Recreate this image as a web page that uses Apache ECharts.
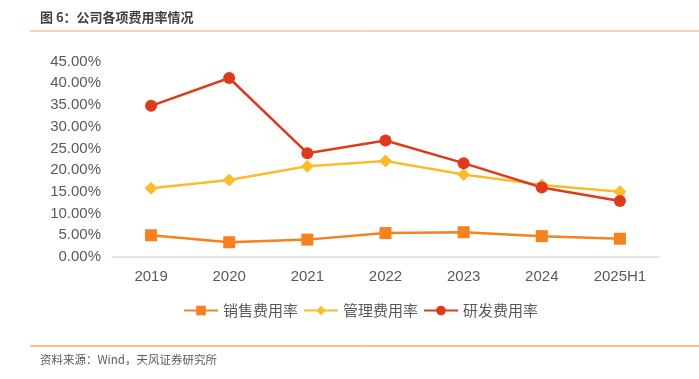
<!DOCTYPE html>
<html><head><meta charset="utf-8">
<script src="https://cdn.jsdelivr.net/npm/echarts@6/dist/echarts.min.js"></script>
<style>html,body{margin:0;padding:0;background:#fff}#c{width:699px;height:379px}</style>
</head><body><div id="c"></div>
<script>
const categories = ['2019','2020','2021','2022','2023','2024','2025H1'];
const salesRate = [5.0, 3.4, 4.0, 5.5, 5.7, 4.8, 4.2];
const adminRate = [15.8, 17.7, 20.9, 22.1, 19.0, 16.6, 15.0];
const rdRate = [34.8, 41.2, 23.9, 26.8, 21.6, 16.0, 12.9];
const seriesNames = ['销售费用率','管理费用率','研发费用率'];
const titleText = '图 6：公司各项费用率情况';
const sourceText = '资料来源：Wind，天风证券研究所';

const chart = echarts.init(document.getElementById('c'));
const font = '"Microsoft YaHei","Noto Sans CJK SC",Arial,sans-serif';
chart.setOption({
  animation:false,
  textStyle:{fontFamily:font},
  graphic:[
    {type:'text',left:40,top:11,style:{text:titleText,font:'bold 13px '+font,fill:'#404040'}},
    {type:'line',shape:{x1:30,y1:31,x2:699,y2:31},style:{stroke:'#F0A868',lineWidth:1}},
    {type:'line',shape:{x1:30,y1:346,x2:699,y2:346},style:{stroke:'#F5821F',lineWidth:1}},
    {type:'text',left:40,top:354,style:{text:sourceText,font:'11.5px '+font,fill:'#595959'}}
  ],
  grid:{left:112,right:40,top:61.5,bottom:122},
  legend:{bottom:56,left:178,itemWidth:34,itemHeight:12,itemGap:5,
    textStyle:{fontSize:15,color:'#595959',fontFamily:font},
    data:seriesNames},
  xAxis:{type:'category',data:categories,boundaryGap:true,
    axisLine:{lineStyle:{color:'#d9d9d9',width:1.5}},axisTick:{show:false},
    axisLabel:{fontSize:15,color:'#595959',margin:12,fontFamily:'Arial,"Liberation Sans",sans-serif'}},
  yAxis:{type:'value',min:0,max:45,interval:5,
    axisLine:{show:false},axisTick:{show:false},splitLine:{show:false},
    axisLabel:{fontSize:15,color:'#595959',margin:11,fontFamily:'Arial,"Liberation Sans",sans-serif',
      formatter:v=>v.toFixed(2)+'%'}},
  series:[
    {name:seriesNames[0],type:'line',data:salesRate,symbol:'rect',symbolSize:12,
      lineStyle:{color:'#F5821F',width:2.5},itemStyle:{color:'#F5821F'}},
    {name:seriesNames[1],type:'line',data:adminRate,symbol:'diamond',symbolSize:13,
      lineStyle:{color:'#FBBC2B',width:2.5},itemStyle:{color:'#FBBC2B'}},
    {name:seriesNames[2],type:'line',data:rdRate,symbol:'circle',symbolSize:12,
      lineStyle:{color:'#DE3B1C',width:2.5},itemStyle:{color:'#DE3B1C'}}
  ]
});
</script></body></html>
